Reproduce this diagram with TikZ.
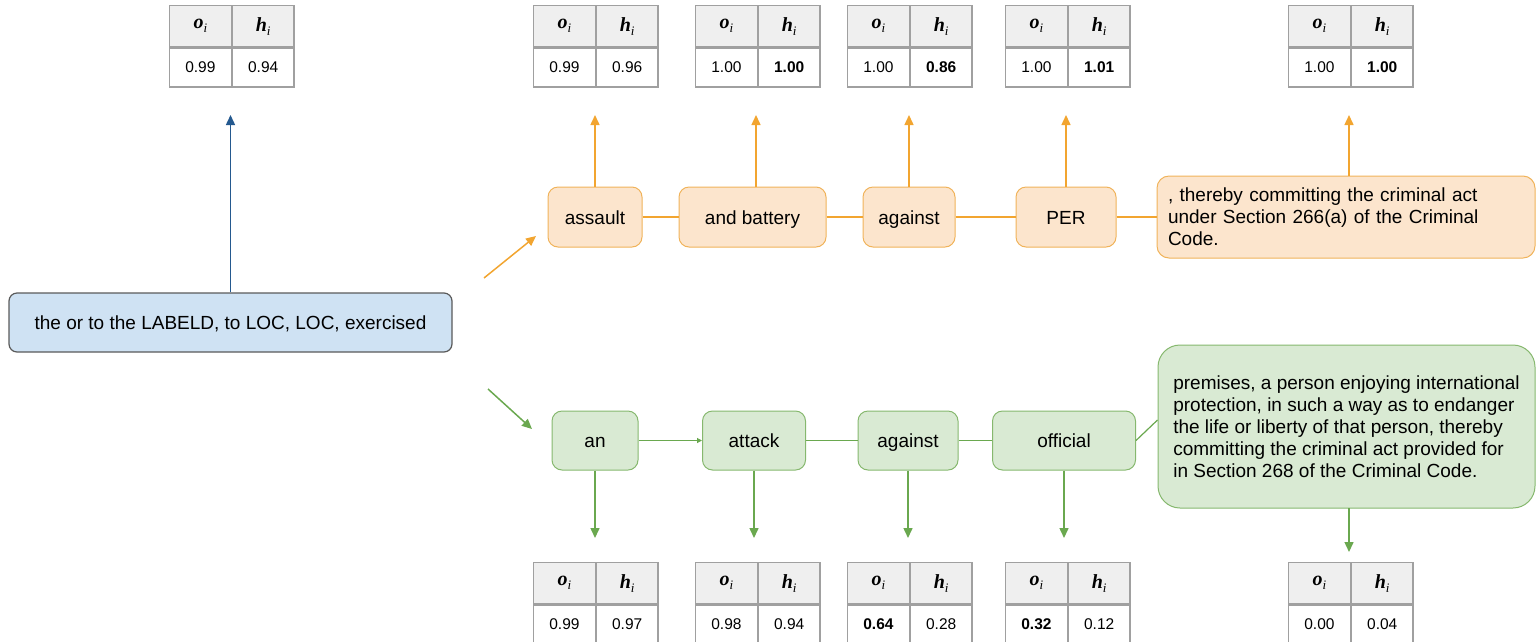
\documentclass[tikz,border=0pt]{standalone}
\usepackage{fontspec}
\setmainfont{Liberation Sans}
\newfontfamily\serifb{Liberation Serif}
\usetikzlibrary{arrows.meta}
\definecolor{ofill}{HTML}{FCE5CD}
\definecolor{oborder}{HTML}{F0B35A}
\definecolor{oline}{HTML}{F2A530}
\definecolor{gfill}{HTML}{D9EAD3}
\definecolor{gborder}{HTML}{86B86E}
\definecolor{gline}{HTML}{6AA84F}
\definecolor{bfill}{HTML}{CFE2F3}
\definecolor{bborder}{HTML}{5A5A5A}
\definecolor{bline}{HTML}{24598F}
\definecolor{tborder}{HTML}{A0A0A0}
\definecolor{thead}{HTML}{EFEFEF}
\newcommand{\hdr}[1]{{\serifb\bfseries\itshape\fontsize{20}{20}\selectfont #1\raisebox{-0.45ex}{\mdseries\fontsize{13}{13}\selectfont i}}}
\newcommand{\mytab}[5]{%
  \node[hcell] (#1a) at (#2,#3) {\hdr{o}};
  \node[hcell] (#1b) at (#1a.north east) {\hdr{h}};
  \node[vcell] (#1c) at (#1a.south west) {#4};
  \node[vcell] (#1d) at (#1b.south west) {#5};
}
\tikzset{
  hcell/.style={draw=tborder, fill=thead, line width=1.3pt, minimum width=61.5pt, minimum height=41pt, inner sep=0pt, anchor=north west},
  vcell/.style={draw=tborder, fill=white, line width=1.3pt, minimum width=61.5pt, minimum height=39pt, inner sep=0pt, anchor=north west, font=\fontsize{15.5}{15.5}\selectfont},
  obox/.style={draw=oborder, fill=ofill, line width=1pt, rounded corners=10pt, minimum height=60pt, inner sep=0pt, text height=17pt, text depth=3pt, font=\fontsize{19}{22}\selectfont},
  gbox/.style={draw=gborder, fill=gfill, line width=1pt, rounded corners=10pt, minimum height=59pt, inner sep=0pt, text height=17pt, text depth=3pt, font=\fontsize{19}{22}\selectfont},
  oarr/.style={draw=oline, line width=1.5pt, -{Triangle[length=10pt,width=9pt]}},
  garr/.style={draw=gline, line width=1.5pt, -{Triangle[length=10pt,width=9pt]}},
  olink/.style={draw=oline, line width=1.2pt},
  glink/.style={draw=gline, line width=1.2pt},
}
\begin{document}
\begin{tikzpicture}[x=1pt,y=-1pt]
\useasboundingbox (0,0) rectangle (1536,641);
% tables top
\mytab{ta}{169}{5}{0.99}{0.94}
\mytab{tb}{533}{5}{0.99}{0.96}
\mytab{tc}{695}{5}{1.00}{\textbf{1.00}}
\mytab{td}{847}{5}{1.00}{\textbf{0.86}}
\mytab{te}{1005}{5}{1.00}{\textbf{1.01}}
\mytab{tf}{1288}{5}{1.00}{\textbf{1.00}}
% tables bottom
\mytab{ba}{533}{562}{0.99}{0.97}
\mytab{bb}{695}{562}{0.98}{0.94}
\mytab{bc}{847}{562}{\textbf{0.64}}{0.28}
\mytab{bd}{1005}{562}{\textbf{0.32}}{0.12}
\mytab{be}{1288}{562}{0.00}{0.04}
% blue box
\node[draw=bborder, fill=bfill, line width=1.2pt, rounded corners=8pt, minimum width=443pt, minimum height=59pt, inner sep=0pt, text height=17pt, text depth=3pt, font=\fontsize{19}{22}\selectfont] (blue) at (230.5,322.5) {the or to the LABELD, to LOC, LOC, exercised};
\coordinate (bt) at (230.5,115);
\draw[draw=bline, line width=1.5pt, -{Triangle[length=10pt,width=9pt]}] (blue.north) -- (bt);
% orange row
\node[obox, minimum width=94pt] (o1) at (595,217) {assault};
\node[obox, minimum width=147pt] (o2) at (752.5,217) {and battery};
\node[obox, minimum width=92pt] (o3) at (909,217) {against};
\node[obox, minimum width=100pt] (o4) at (1066,217) {PER};
\node[draw=oborder, fill=ofill, line width=1pt, rounded corners=12pt, minimum height=82pt, text width=356pt, inner xsep=11pt, inner ysep=0pt, align=left, font=\fontsize{19}{22}\selectfont] (o5) at (1346,217) {, thereby committing the criminal act\\under Section 266(a) of the Criminal\\Code.};
\draw[olink] (o1) -- (o2);
\draw[olink] (o2) -- (o3);
\draw[olink] (o3) -- (o4);
\draw[olink] (o4) -- (o5);
\coordinate (o1t) at (595,115);
\coordinate (o2t) at (756,115);
\coordinate (o3t) at (909,115);
\coordinate (o4t) at (1066,115);
\coordinate (o5t) at (1349,115);
\draw[oarr] (o1.north) -- (o1t);
\draw[oarr] (756,187) -- (o2t);
\draw[oarr] (o3.north) -- (o3t);
\draw[oarr] (o4.north) -- (o4t);
\draw[oarr] (1349,176) -- (o5t);
\coordinate (os) at (484,278);
\coordinate (oe) at (536,236);
\draw[oarr] (os) -- (oe);
% green row
\node[gbox, minimum width=86pt] (g1) at (595,440.5) {an};
\node[gbox, minimum width=103pt] (g2) at (754,440.5) {attack};
\node[gbox, minimum width=100pt] (g3) at (908,440.5) {against};
\node[gbox, minimum width=143pt] (g4) at (1064,440.5) {official};
\node[draw=gborder, fill=gfill, line width=1pt, rounded corners=22pt, minimum height=163pt, minimum width=377pt, inner sep=0pt, align=left, font=\fontsize{19}{22}\selectfont] (g5) at (1346.5,426.5) {premises, a person enjoying international\\protection, in such a way as to endanger\\the life or liberty of that person, thereby\\committing the criminal act provided for\\in Section 268 of the Criminal Code.};
\draw[glink, -{Triangle[length=5pt,width=5pt]}] (g1) -- (g2);
\draw[glink] (g2) -- (g3);
\draw[glink] (g3) -- (g4);
\draw[glink] (g4.east) -- (g5.west |- 0,420);
\coordinate (g1b) at (595,538);
\coordinate (g2b) at (754,538);
\coordinate (g3b) at (908,538);
\coordinate (g4b) at (1064,538);
\coordinate (g5b) at (1349,552);
\draw[garr] (g1.south) -- (g1b);
\draw[garr] (g2.south) -- (g2b);
\draw[garr] (g3.south) -- (g3b);
\draw[garr] (g4.south) -- (g4b);
\draw[garr] (1349,508) -- (g5b);
\coordinate (gs) at (488,389);
\coordinate (ge) at (532,429);
\draw[garr] (gs) -- (ge);
\end{tikzpicture}
\end{document}
